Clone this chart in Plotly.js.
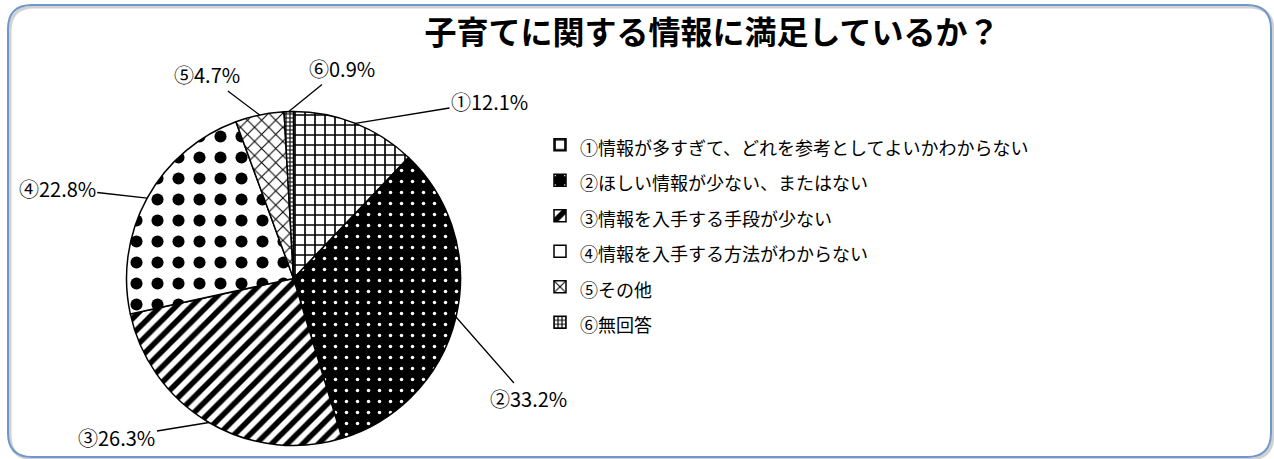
<!DOCTYPE html>
<html>
<head>
<meta charset="utf-8">
<script src="https://cdn.plot.ly/plotly-3.0.1.min.js"></script>
<style>
  body { margin: 0; background: #fff; }
  #myPlot { width: 1274px; height: 459px; }
</style>
</head>
<body>
<div id="myPlot"></div>
<script>
// ======================== データ =========================
const nums = ["①", "②", "③", "④", "⑤", "⑥"];
const categories = [
  "情報が多すぎて、どれを参考としてよいかわからない",
  "ほしい情報が少ない、またはない",
  "情報を入手する手段が少ない",
  "情報を入手する方法がわからない",
  "その他",
  "無回答"
];
const values = [12.1, 33.2, 26.3, 22.8, 4.7, 0.9];

// ======================== 見た目 =========================
const W = 1274, H = 459;
const cx = 293.5, cy = 278.5, r = 167;   // 円の中心と半径 (px)
const labelFont = "Liberation Sans Narrow, Noto Sans CJK JP, sans-serif";
const jpFont = "Noto Sans CJK JP, sans-serif";

// ラベルのずらし量 (px)
const labelShift = [[134, -22], [72, 82], [-92, 15], [-90, -10], [-53, -40], [53, -43]];

const patShape  = ["+", ".", "/", ".", "x", "+"];
const patSize   = [10, 11, 11, 21, 10, 4];
const patSolid  = [0.3, 0.08, 0.5, 0.26, 0.2, 0.5];
const patFg     = ["#000", "#fff", "#000", "#000", "#000", "#000"];
const patBg     = ["#fff", "#000", "#fff", "#fff", "#fff", "#fff"];

const total = values.reduce((a, b) => a + b, 0);

// 引き出し線つきラベル
let cum = 0;
const annotations = values.map((v, i) => {
  const th = 2 * Math.PI * (cum + v / 2) / total;
  cum += v;
  return {
    x: (cx + r * Math.sin(th)) / W,
    y: 1 - (cy - r * Math.cos(th)) / H,
    xref: "paper", yref: "paper",
    text: nums[i] + v.toFixed(1) + "%",
    showarrow: true, arrowhead: 0, arrowwidth: 1.3, arrowcolor: "#000",
    standoff: 0,
    ax: labelShift[i][0], ay: labelShift[i][1],
    font: { family: labelFont, size: 20, color: "#000" }
  };
});

// 角丸の枠
function roundRect(x0, y0, x1, y1, rad) {
  const X = v => (v / W).toFixed(5), Y = v => (1 - v / H).toFixed(5);
  return `M${X(x0 + rad)},${Y(y0)} L${X(x1 - rad)},${Y(y0)} Q${X(x1)},${Y(y0)} ${X(x1)},${Y(y0 + rad)} ` +
         `L${X(x1)},${Y(y1 - rad)} Q${X(x1)},${Y(y1)} ${X(x1 - rad)},${Y(y1)} ` +
         `L${X(x0 + rad)},${Y(y1)} Q${X(x0)},${Y(y1)} ${X(x0)},${Y(y1 - rad)} ` +
         `L${X(x0)},${Y(y0 + rad)} Q${X(x0)},${Y(y0)} ${X(x0 + rad)},${Y(y0)} Z`;
}

const data = [{
  type: "pie",
  labels: nums.map((n, i) => `<span style="font-size:18px">${n}${categories[i]}</span>`),
  values: values,
  sort: false,
  direction: "clockwise",
  rotation: 0,
  textinfo: "none",
  hoverinfo: "skip",
  domain: { x: [(cx - r) / W, (cx + r) / W], y: [1 - (cy + r) / H, 1 - (cy - r) / H] },
  marker: {
    colors: patBg,
    line: { color: "#000", width: 1.5 },
    pattern: { shape: patShape, size: patSize, solidity: patSolid, fgcolor: patFg, bgcolor: patBg, fillmode: "replace" }
  }
}];

const layout = {
  width: W, height: H,
  margin: { l: 0, r: 0, t: 0, b: 0 },
  paper_bgcolor: "#fff",
  title: {
    text: "子育てに関する情報に満足しているか？",
    x: 712 / W, xanchor: "center", xref: "paper",
    y: 1 - 33 / H, yanchor: "middle", yref: "paper",
    font: { family: jpFont, size: 32, weight: "bold", color: "#000" }
  },
  showlegend: true,
  legend: {
    x: 540 / W, xanchor: "left", y: 1 - 122 / H, yanchor: "top",
    font: { family: jpFont, size: 25, color: "#000" },
    bgcolor: "rgba(0,0,0,0)"
  },
  annotations: annotations,
  shapes: [
    { type: "path", xref: "paper", yref: "paper", layer: "below",
      path: roundRect(10, 7, 1273, 459, 24), line: { color: "rgba(0,0,0,0.18)", width: 3 } },
    { type: "path", xref: "paper", yref: "paper", layer: "below",
      path: roundRect(8, 5, 1271, 457, 24), line: { color: "#7096CE", width: 2 } }
  ]
};

Plotly.newPlot("myPlot", data, layout, { displayModeBar: false, staticPlot: true });
</script>
</body>
</html>
